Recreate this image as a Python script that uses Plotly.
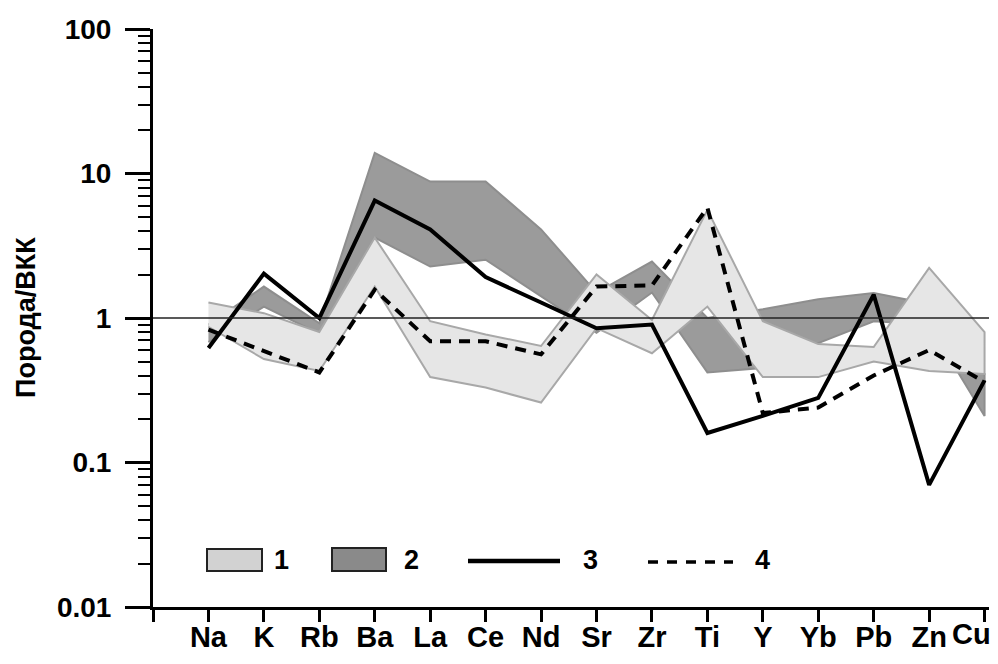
import plotly.graph_objects as go

# Elements along the x axis
elements = ["Na", "K", "Rb", "Ba", "La", "Ce", "Nd", "Sr", "Zr", "Ti", "Y", "Yb", "Pb", "Zn", "Cu"]

# Field 1 (light band): upper and lower envelopes, rock / ВКК
field1_upper = [1.28, 1.08, 0.80, 3.6, 0.95, 0.77, 0.64, 2.0, 0.97, 5.6, 0.95, 0.66, 0.63, 2.22, 0.80]
field1_lower = [0.87, 0.52, 0.43, 1.65, 0.39, 0.33, 0.26, 0.85, 0.57, 1.2, 0.39, 0.39, 0.50, 0.43, 0.41]

# Field 2 (dark band)
field2_upper = [0.90, 1.65, 0.92, 13.9, 8.8, 8.8, 4.1, 1.5, 2.46, 1.0, 1.15, 1.35, 1.49, 1.25, 0.41]
field2_lower = [0.68, 1.20, 0.78, 3.6, 2.27, 2.53, 1.41, 0.79, 1.5, 0.42, 0.45, 0.67, 0.95, 0.90, 0.21]

# Sample 3 (solid) and sample 4 (dashed)
sample3 = [0.62, 2.03, 1.0, 6.5, 4.1, 1.92, 1.28, 0.85, 0.90, 0.16, 0.21, 0.28, 1.45, 0.07, 0.37]
sample4 = [0.83, 0.59, 0.42, 1.57, 0.69, 0.69, 0.56, 1.65, 1.68, 5.8, 0.22, 0.24, 0.40, 0.60, 0.36]

y_ticks = [0.01, 0.1, 1, 10, 100]
y_tick_labels = ["0.01", "0.1", "1", "10", "100"]
legend_labels = ["1", "2", "3", "4"]

FONT = "Liberation Sans, Arial, sans-serif"
W, H = 998, 664
L, R, T, B = 153, 9, 29, 57
PW, PH = W - L - R, H - T - B

idx = list(range(len(elements)))


def bold(size):
    return dict(family=FONT, size=size, color="black", weight="bold")


def band(upper, lower, fill, edge):
    return go.Scatter(
        x=idx + idx[::-1],
        y=upper + lower[::-1],
        mode="lines",
        fill="toself",
        fillcolor=fill,
        line=dict(color=edge, width=2),
        hoverinfo="skip",
        showlegend=False,
    )


fig = go.Figure()
fig.add_trace(band(field2_upper, field2_lower, "#9b9b9b", "#8e8e8e"))
fig.add_trace(band(field1_upper, field1_lower, "#e6e6e6", "#a8a8a8"))
fig.add_trace(go.Scatter(x=idx, y=sample4, mode="lines",
                         line=dict(color="black", width=4, dash="11px,8px"),
                         showlegend=False))
fig.add_trace(go.Scatter(x=idx, y=sample3, mode="lines",
                         line=dict(color="black", width=4),
                         showlegend=False))


def px(xp):
    return (xp - L) / PW


def py(yp):
    return (T + PH - yp) / PH


shapes = [
    # reference level: rock = ВКК
    dict(type="line", xref="paper", yref="y", x0=0, x1=1, y0=1, y1=1,
         line=dict(color="#222", width=1.3), layer="above"),
    # legend keys
    dict(type="rect", xref="paper", yref="paper", x0=px(207), x1=px(262), y0=py(571), y1=py(549),
         fillcolor="#d2d2d2", line=dict(color="#222", width=2)),
    dict(type="rect", xref="paper", yref="paper", x0=px(332), x1=px(386), y0=py(571), y1=py(548),
         fillcolor="#8a8a8a", line=dict(color="#222", width=2)),
    dict(type="line", xref="paper", yref="paper", x0=px(468), x1=px(560), y0=py(561), y1=py(561),
         line=dict(color="black", width=4.5)),
    dict(type="line", xref="paper", yref="paper", x0=px(648), x1=px(733), y0=py(562), y1=py(562),
         line=dict(color="black", width=3.5, dash="10px,9px")),
]

annotations = [
    dict(text="Порода/ВКК", xref="paper", yref="paper", x=px(26), y=py(318), textangle=-90,
         xanchor="center", yanchor="middle", showarrow=False, font=bold(27)),
    # last category label sits flush with the right edge of the figure
    dict(text=elements[-1], xref="x", yref="paper", x=idx[-1], y=py(634), xshift=-13,
         xanchor="center", yanchor="middle", showarrow=False, font=bold(29)),
]
for label, xp in zip(legend_labels, [281, 411, 590, 762]):
    annotations.append(dict(text=label, xref="paper", yref="paper", x=px(xp), y=py(560),
                            xanchor="center", yanchor="middle", showarrow=False, font=bold(27)))

fig.update_layout(
    width=W, height=H,
    margin=dict(l=L, r=R, t=T, b=B, autoexpand=False),
    paper_bgcolor="white", plot_bgcolor="white",
    showlegend=False,
    shapes=shapes,
    annotations=annotations,
    xaxis=dict(
        range=[-1, 14.08],
        automargin=False,
        tickmode="array",
        tickvals=[-1] + idx,
        ticktext=[""] + elements[:-1] + [""],
        ticks="outside", ticklen=12, tickwidth=2.5, tickcolor="black",
        ticklabelstandoff=-10,
        showline=True, linewidth=3, linecolor="black",
        showgrid=False, zeroline=False,
        tickfont=bold(29),
    ),
    yaxis=dict(
        type="log",
        range=[-2, 2],
        automargin=False,
        tickmode="array",
        tickvals=y_ticks,
        ticktext=y_tick_labels,
        ticks="outside", ticklen=25, tickwidth=2.5, tickcolor="black",
        minor=dict(ticks="outside", ticklen=12, tickwidth=2, tickcolor="black",
                   dtick="D1", showgrid=False),
        ticklabelstandoff=8,
        showline=True, linewidth=3, linecolor="black",
        showgrid=False, zeroline=False,
        tickfont=bold(28),
    ),
)

fig.write_html("out.html")
